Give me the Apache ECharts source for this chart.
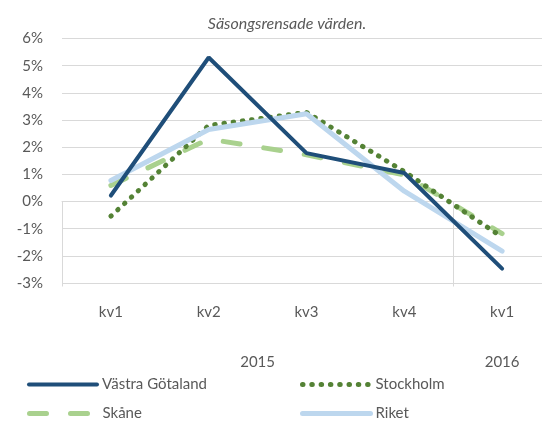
<!DOCTYPE html>
<html><head><meta charset="utf-8">
<script src="https://cdn.jsdelivr.net/npm/echarts@6/dist/echarts.min.js"></script>
<style>html,body{margin:0;padding:0;background:#fff}#c{width:542px;height:422px}</style>
</head><body><div id="c"></div>
<script>
const quarters = ['kv1','kv2','kv3','kv4','kv1'];
const years = ['2015','2016'];
const yearPos = [1.5, 4];
const vastraGotaland = [0.22, 5.3, 1.78, 1.05, -2.47];
const stockholm = [-0.54, 2.8, 3.28, 1.1, -1.31];
const skane = [0.59, 2.3, 1.72, 0.98, -1.18];
const riket = [0.77, 2.65, 3.23, 0.38, -1.83];
const yTicks = {min: -3, max: 6, step: 1};

const txt = '#595959', grid = '#D9D9D9', font = 'Lato';
function leg(name, left, top, lw) {
  return {data: [name], left: left, top: top, padding: 0, itemWidth: 68, itemHeight: 10,
    itemStyle: {opacity: 0}, lineStyle: {width: lw, cap: 'round'},
    textStyle: {color: txt, fontSize: 15, fontFamily: font}};
}
const chart = echarts.init(document.getElementById('c'));
chart.setOption({
  animation: false,
  textStyle: {fontFamily: font},
  title: {text: 'Säsongsrensade värden.', left: 282, textAlign: 'center', top: 11,
    textStyle: {fontSize: 16, fontStyle: 'italic', fontWeight: 'normal', color: txt, fontFamily: font}},
  grid: {left: 62, top: 38.5, width: 489, height: 244.5, outerBoundsMode: 'none', containLabel: false},
  xAxis: [{
    type: 'category', data: quarters, boundaryGap: true,
    axisLine: {show: true, lineStyle: {color: grid, width: 1}},
    axisTick: {show: true, length: 85, lineStyle: {color: grid},
      interval: function (i) { return i === 0 || i === 4; }},
    axisLabel: {color: txt, fontSize: 15, margin: 22, fontFamily: font},
    splitLine: {show: false}
  }, {
    type: 'value', min: -0.5, max: 4.5, interval: 0.5, position: 'bottom',
    axisLine: {show: false}, axisTick: {show: false}, splitLine: {show: false},
    axisLabel: {color: txt, fontSize: 15, margin: 72, fontFamily: font, showMinLabel: true, showMaxLabel: true,
      formatter: function (v) { const k = yearPos.indexOf(v); return k >= 0 ? years[k] : ''; }}
  }],
  yAxis: {
    type: 'value', min: yTicks.min, max: yTicks.max, interval: yTicks.step,
    axisLine: {show: false}, axisTick: {show: false},
    axisLabel: {color: txt, fontSize: 15, margin: 19, formatter: '{value}%', fontFamily: font},
    splitLine: {lineStyle: {color: grid, width: 1}}
  },
  legend: [leg('Västra Götaland', 27, 377, 4), leg('Skåne', 27, 406, 5), leg('Stockholm', 300, 377, 5), leg('Riket', 300, 406, 5)],
  series: [
    {name: 'Västra Götaland', type: 'line', data: vastraGotaland, symbol: 'none', z: 4,
      lineStyle: {color: '#1F4E79', width: 4, cap: 'round'}, itemStyle: {color: '#1F4E79'}},
    {name: 'Stockholm', type: 'line', data: stockholm, symbol: 'none', z: 3,
      lineStyle: {color: '#548235', width: 5, type: [0.5, 8.8], cap: 'round'}, itemStyle: {color: '#548235'}},
    {name: 'Skåne', type: 'line', data: skane, symbol: 'none', z: 2,
      lineStyle: {color: '#A9D18E', width: 5, type: [17, 24], cap: 'round'}, itemStyle: {color: '#A9D18E'}},
    {name: 'Riket', type: 'line', data: riket, symbol: 'none', z: 3,
      lineStyle: {color: '#BDD7EE', width: 5, cap: 'round'}, itemStyle: {color: '#BDD7EE'}}
  ]
});
</script></body></html>
